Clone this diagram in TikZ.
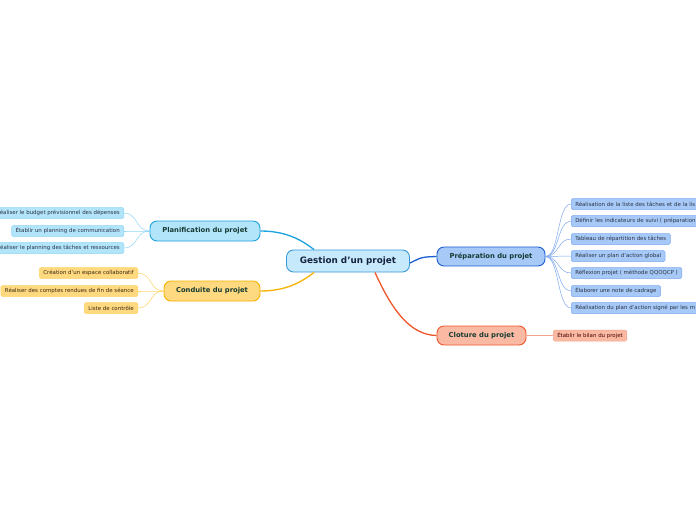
\documentclass[tikz,border=0pt]{standalone}
\usepackage{fontspec}
\setmainfont{DejaVu Sans}
\usetikzlibrary{positioning}
\definecolor{rootfill}{HTML}{C6E9FB}
\definecolor{rootline}{HTML}{3A9AD9}
\definecolor{planfill}{HTML}{B2E4FA}
\definecolor{planline}{HTML}{1AA3E0}
\definecolor{plantwig}{HTML}{8FD6F5}
\definecolor{condfill}{HTML}{FFD97F}
\definecolor{condline}{HTML}{F7B300}
\definecolor{condtwig}{HTML}{FFD466}
\definecolor{prepfill}{HTML}{A6C9F7}
\definecolor{prepline}{HTML}{1B5FD2}
\definecolor{preptwig}{HTML}{7EA9EF}
\definecolor{clotfill}{HTML}{F9B9A3}
\definecolor{clotline}{HTML}{F0562C}
\definecolor{clottwig}{HTML}{F6A58A}
\definecolor{topictext}{HTML}{173B33}
\definecolor{roottext}{HTML}{14223F}
\definecolor{leaftext}{HTML}{2B3344}

\begin{document}
\begin{tikzpicture}[x=1pt,y=-1pt,
  topic/.style={draw,line width=0.9pt,rounded corners=7pt,text=topictext,
    font=\bfseries\fontsize{6.8}{8}\selectfont,minimum height=20pt,inner xsep=2pt},
  leaf/.style={draw,line width=0.5pt,rounded corners=1.5pt,text=leaftext,
    font=\fontsize{5.45}{6}\selectfont,minimum height=11pt,inner xsep=4pt,inner ysep=0pt},
  branch/.style={line width=1.3pt},
  twig/.style={line width=0.5pt}]
  \clip (0,0) rectangle (696,520);
  \fill[white] (0,0) rectangle (696,520);
  % main topics
  \node[topic,fill=rootfill,draw=rootline,minimum width=123pt,minimum height=22pt,
    font=\bfseries\fontsize{8.8}{10}\selectfont,text=roottext] (root) at (348,261) {Gestion d'un projet};
  \node[topic,fill=planfill,draw=planline,minimum width=110pt] (plan) at (205,231) {Planification du projet};
  \node[topic,fill=condfill,draw=condline,minimum width=96pt] (cond) at (212,291) {Conduite du projet};
  \node[topic,fill=prepfill,draw=prepline,minimum width=108pt,minimum height=19pt] (prep) at (491,256.5) {Préparation du projet};
  \node[topic,fill=clotfill,draw=clotline,minimum width=89pt,minimum height=19pt] (clot) at (481.5,335.5) {Cloture du projet};
  % branches
  \draw[branch,planline] ([xshift=28pt]root.north west) .. controls (305,243) and (290,231) .. (plan.east);
  \draw[branch,condline] ([xshift=28pt]root.south west) .. controls (305,279) and (290,291) .. (cond.east);
  \draw[branch,prepline] ([yshift=-2pt]root.east) .. controls (422,257) .. (prep.west);
  \draw[branch,clotline] ([xshift=27pt]root.south) .. controls (392,310) and (410,335) .. (clot.west);
  % leaves of each topic
  \foreach \leafy/\leaftext [count=\i] in {213/{Réaliser le budget prévisionnel des dépenses},
      231/{Établir un planning de communication},248/{Réaliser le planning des tâches et ressources}} {
    \node[leaf,fill=planfill,draw=plantwig,anchor=east] (plan\i) at (124,\leafy) {\leaftext};
    \draw[twig,plantwig] (plan.west) .. controls +(-14,0) and +(14,0) .. (plan\i.east);
  }
  \foreach \leafy/\leaftext [count=\i] in {273/{Création d'un espace collaboratif},
      291/{Réaliser des comptes rendues de fin de séance},308/{Liste de contrôle}} {
    \node[leaf,fill=condfill,draw=condtwig,anchor=east,text=black!70!brown] (cond\i) at (138,\leafy) {\leaftext};
    \draw[twig,condtwig] (cond.west) .. controls +(-14,0) and +(14,0) .. (cond\i.east);
  }
  \foreach \leafy/\leafcut/\leaftext [count=\i] in {204/1/{Réalisation de la liste des tâches et de la lis},
      221/1/{Définir les indicateurs de suivi ( préparation},239/0/{Tableau de répartition des tâches},
      256/0/{Réaliser un plan d'action global},273/0/{Réflexion projet ( méthode QQOQCP )},
      291/0/{Élaborer une note de cadrage},308/1/{Réalisation du plan d'action signé par les m}} {
    \ifnum\leafcut=1
      \node[leaf,fill=prepfill,draw=preptwig,anchor=west,text width=160pt,align=left] (prep\i) at (571,\leafy) {\leaftext};
    \else
      \node[leaf,fill=prepfill,draw=preptwig,anchor=west] (prep\i) at (571,\leafy) {\leaftext};
    \fi
    \draw[twig,preptwig] (prep.east) .. controls +(14,0) and +(-14,0) .. (prep\i.west);
  }
  \node[leaf,fill=clotfill,draw=clottwig,anchor=west,text=black!70!red] (clot1) at (553,335.5) {Établir le bilan du projet};
  \draw[twig,clottwig] (clot.east) -- (clot1.west);
\end{tikzpicture}
\end{document}
